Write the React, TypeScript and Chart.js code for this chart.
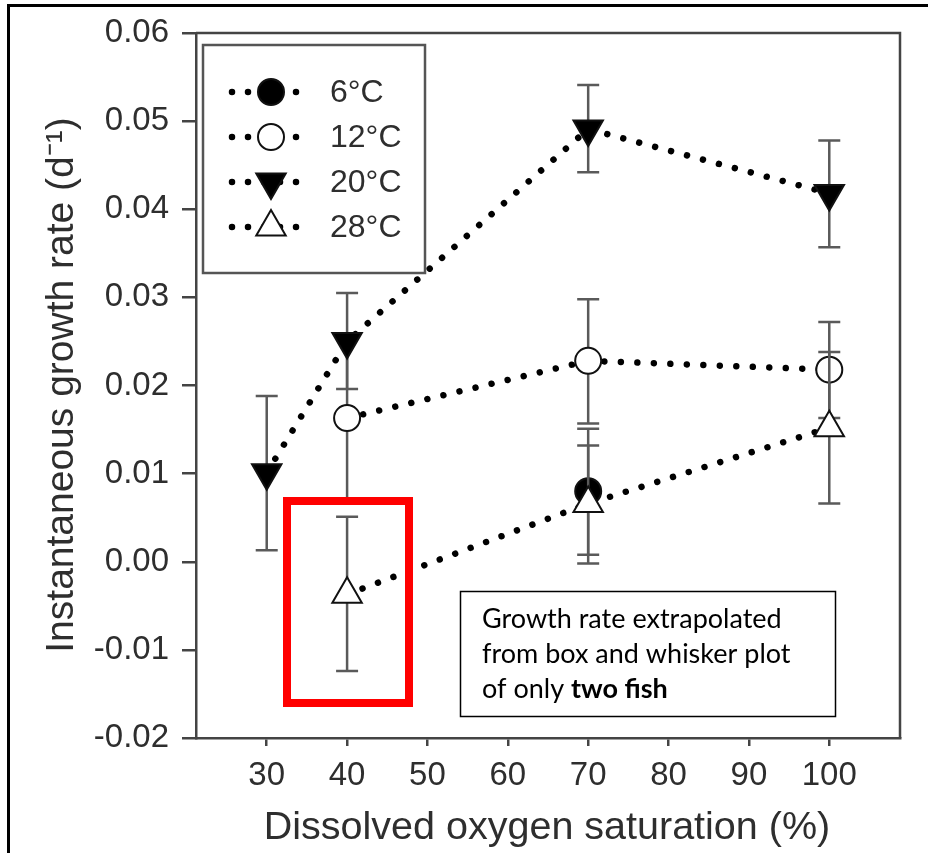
import React, { useEffect, useRef } from 'react';
import { Chart, registerables } from 'chart.js';
import * as helpers from 'chart.js/helpers';

Chart.register(...registerables);

// ---- data ----
const xTicks = [30, 40, 50, 60, 70, 80, 90, 100];
const yTicks = [-0.02, -0.01, 0, 0.01, 0.02, 0.03, 0.04, 0.05, 0.06];
const seriesLabels = ['6°C', '12°C', '20°C', '28°C'];

const x6 = [70];
const y6 = [0.008];
const lo6 = [0.0008];
const hi6 = [0.0151];

const x12 = [40, 70, 100];
const y12 = [0.0163, 0.0228, 0.0218];
const lo12 = [0.0068, 0.0157, 0.0163];
const hi12 = [0.0253, 0.0298, 0.0272];

const x20 = [30, 40, 70, 100];
const y20 = [0.0101, 0.025, 0.0491, 0.0418];
const lo20 = [0.0013, 0.0196, 0.0442, 0.0357];
const hi20 = [0.0188, 0.0305, 0.0541, 0.0478];

const x28 = [40, 70, 100];
const y28 = [-0.0037, 0.0066, 0.0152];
const lo28 = [-0.0124, -0.0002, 0.0066];
const hi28 = [0.0051, 0.0132, 0.0238];

const xTitle = 'Dissolved oxygen saturation (%)';
const yTitle = 'Instantaneous growth rate (d⁻¹)';
const noteLines = ['Growth rate extrapolated', 'from box and whisker plot', 'of only '];
const noteBold = 'two fish';

// ---- styling ----
const xs = [x6, x12, x20, x28];
const ys = [y6, y12, y20, y28];
const los = [lo6, lo12, lo20, lo28];
const his = [hi6, hi12, hi20, hi28];
const pStyles = ['circle', 'circle', 'triangle', 'triangle'];
const pRot = [0, 0, 180, 0];
const pRad = [13, 13, 17, 17];
const pFill = ['#000', '#fff', '#000', '#fff'];

const SANS = "'Liberation Sans', Arial, Helvetica, sans-serif";
const TXT = '#2e2e2e';
const AX = '#444';

const bgPlugin = {
  id: 'bg',
  beforeDraw(chart: any) {
    const ctx = chart.ctx;
    ctx.save();
    ctx.fillStyle = '#fff';
    ctx.fillRect(0, 0, chart.width, chart.height);
    ctx.strokeStyle = '#000';
    ctx.lineWidth = 3;
    ctx.beginPath();
    ctx.moveTo(8.5, 853);
    ctx.lineTo(8.5, 5.5);
    ctx.lineTo(928, 5.5);
    ctx.stroke();
    ctx.restore();
  },
};

const errPlugin = {
  id: 'errbars',
  beforeDatasetDraw(chart: any, args: any) {
    const i = args.index;
    const ctx = chart.ctx;
    const sx = chart.scales.x;
    const sy = chart.scales.y;
    ctx.save();
    ctx.strokeStyle = '#5a5a5a';
    ctx.lineWidth = 2.5;
    xs[i].forEach((xv: number, k: number) => {
      const px = sx.getPixelForValue(xv);
      const pl = sy.getPixelForValue(los[i][k]);
      const ph = sy.getPixelForValue(his[i][k]);
      ctx.beginPath();
      ctx.moveTo(px, pl);
      ctx.lineTo(px, ph);
      ctx.moveTo(px - 11, pl);
      ctx.lineTo(px + 11, pl);
      ctx.moveTo(px - 11, ph);
      ctx.lineTo(px + 11, ph);
      ctx.stroke();
    });
    ctx.restore();
  },
};

const decoPlugin = {
  id: 'deco',
  afterDatasetsDraw(chart: any) {
    const ctx = chart.ctx;
    const a = chart.chartArea;
    ctx.save();
    // frame top/right
    ctx.strokeStyle = AX;
    ctx.lineWidth = 2.5;
    ctx.beginPath();
    ctx.moveTo(a.left, a.top);
    ctx.lineTo(a.right, a.top);
    ctx.lineTo(a.right, a.bottom);
    ctx.stroke();

    // legend
    ctx.fillStyle = '#fff';
    ctx.fillRect(203, 45, 222, 228);
    ctx.strokeStyle = '#555';
    ctx.lineWidth = 2.5;
    ctx.strokeRect(203, 45, 222, 228);
    seriesLabels.forEach((lab, i) => {
      const cy = 92 + i * 45;
      ctx.save();
      ctx.strokeStyle = '#000';
      ctx.lineWidth = 6.5;
      ctx.lineCap = 'round';
      ctx.setLineDash([0.001, 16]);
      ctx.beginPath();
      ctx.moveTo(232, cy);
      ctx.lineTo(299, cy);
      ctx.stroke();
      ctx.restore();
      ctx.save();
      ctx.fillStyle = pFill[i];
      ctx.strokeStyle = '#111';
      ctx.lineWidth = 2;
      helpers.drawPoint(ctx, { pointStyle: pStyles[i], rotation: pRot[i], radius: pRad[i], borderWidth: 2 } as any, 271, cy);
      ctx.restore();
      ctx.fillStyle = TXT;
      ctx.font = `32px ${SANS}`;
      ctx.textBaseline = 'middle';
      ctx.textAlign = 'left';
      ctx.fillText(lab, 330, cy + 1);
    });
    ctx.restore();
  },
  afterDraw(chart: any) {
    const ctx = chart.ctx;
    ctx.save();
    // axis titles
    ctx.fillStyle = TXT;
    ctx.font = `39.5px ${SANS}`;
    ctx.textAlign = 'center';
    ctx.textBaseline = 'middle';
    ctx.fillText(xTitle, 547, 828);
    ctx.font = `39px ${SANS}`;
    ctx.save();
    ctx.translate(62, 385);
    ctx.rotate(-Math.PI / 2);
    ctx.fillText(yTitle, 0, 0);
    ctx.restore();

    // red highlight box
    ctx.strokeStyle = '#ff0000';
    ctx.lineWidth = 8;
    ctx.strokeRect(287, 501, 122, 202);

    // note box
    ctx.fillStyle = '#fff';
    ctx.fillRect(460, 591, 376, 126);
    ctx.strokeStyle = '#000';
    ctx.lineWidth = 1.5;
    ctx.strokeRect(460.5, 591.5, 375, 125);
    ctx.fillStyle = '#000';
    ctx.textAlign = 'left';
    ctx.textBaseline = 'alphabetic';
    ctx.font = `27px Lato, 'Open Sans', sans-serif`;
    noteLines.forEach((t, k) => {
      ctx.fillText(t, 482, 628 + k * 35);
    });
    const w = ctx.measureText(noteLines[2]).width;
    ctx.font = `bold 27px Lato, 'Open Sans', sans-serif`;
    ctx.fillText(noteBold, 482 + w, 628 + 2 * 35);
    ctx.restore();
  },
};

export default function App() {
  const ref = useRef<HTMLCanvasElement>(null);
  useEffect(() => {
    const canvas = ref.current!;
    const datasets = seriesLabels.map((lab, i) => ({
      label: lab,
      data: xs[i].map((x: number, k: number) => ({ x, y: ys[i][k] })),
      showLine: true,
      borderColor: '#000',
      borderWidth: 6.5,
      borderDash: [0.001, 16.5],
      borderCapStyle: 'round',
      pointStyle: pStyles[i],
      pointRotation: pRot[i],
      pointRadius: pRad[i],
      pointBorderWidth: 2,
      pointBorderColor: '#111',
      pointBackgroundColor: pFill[i],
      order: 3 - i,
      tension: 0,
      clip: false,
    }));
    const chart = new Chart(canvas, {
      type: 'line',
      data: { datasets } as any,
      options: {
        responsive: false,
        animation: false,
        devicePixelRatio: 1,
        layout: { padding: { left: 0, top: 33, right: 28, bottom: 0 } },
        plugins: { legend: { display: false }, tooltip: { enabled: false } },
        scales: {
          x: {
            type: 'linear',
            min: 21.2,
            max: 108.8,
            afterBuildTicks: (s: any) => {
              s.ticks = xTicks.map((v) => ({ value: v }));
            },
            afterFit: (s: any) => {
              s.height = 115;
            },
            grid: { drawOnChartArea: false, drawTicks: true, tickLength: 8, color: AX, lineWidth: 2.5 },
            border: { display: true, color: AX, width: 2.5 },
            ticks: { color: TXT, font: { family: SANS, size: 33 }, padding: 10, maxRotation: 0, autoSkip: false },
          },
          y: {
            type: 'linear',
            min: -0.02,
            max: 0.06,
            afterBuildTicks: (s: any) => {
              s.ticks = yTicks.map((v) => ({ value: v }));
            },
            afterFit: (s: any) => {
              s.width = 196;
            },
            grid: { drawOnChartArea: false, drawTicks: true, tickLength: 14, color: AX, lineWidth: 2.5 },
            border: { display: true, color: AX, width: 2.5 },
            ticks: {
              color: TXT,
              font: { family: SANS, size: 33 },
              padding: 13,
              autoSkip: false,
              callback: (v: any) => Number(v).toFixed(2),
            },
          },
        },
      } as any,
      plugins: [bgPlugin, errPlugin, decoPlugin],
    });
    return () => chart.destroy();
  }, []);
  return (
    <div style={{ position: 'absolute', left: 0, top: 0, width: 928, height: 853, background: '#fff' }}>
      <canvas ref={ref} width={928} height={853} style={{ display: 'block', width: 928, height: 853 }} />
    </div>
  );
}
